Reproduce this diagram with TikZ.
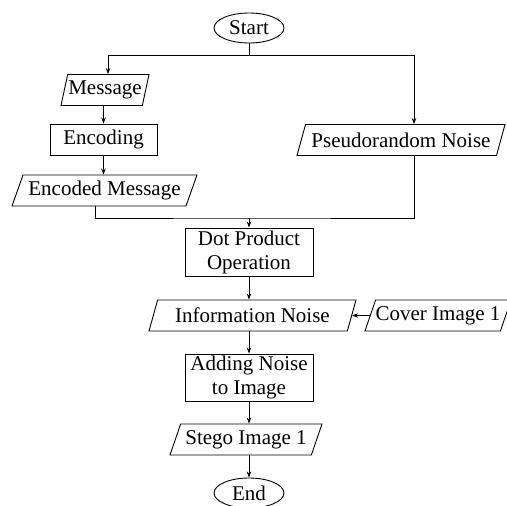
\documentclass[tikz,border=0pt]{standalone}
\usepackage{fontspec}
\setmainfont{Liberation Serif}
\usetikzlibrary{shapes.geometric,arrows.meta}
\begin{document}
\begin{tikzpicture}[x=1pt,y=-1pt,
  every node/.style={font=\fontsize{21}{24}\selectfont, inner sep=0pt, line width=0.9pt},
  terminal/.style={ellipse, draw, minimum width=70pt, minimum height=30pt},
  procbox/.style={rectangle, draw, align=center},
  iobox/.style={trapezium, draw, trapezium left angle=60, trapezium right angle=120,
    trapezium stretches body, minimum height=31pt},
  conn/.style={draw, line width=0.9pt},
  arr/.style={conn, -{Stealth[length=6pt,width=4.5pt]}}]

\useasboundingbox (0,0) rectangle (507,506);
\clip (0,0) rectangle (507,506);

% flowchart nodes
\node[terminal] (start) at (249,28) {Start};
\node[iobox, trapezium left angle=70, trapezium right angle=110, minimum width=88pt] (msg) at (105,90) {Message};
\node[procbox, minimum width=107pt, minimum height=31pt] (enc) at (103.5,139.5) {Encoding};
\node[iobox, minimum width=185pt] (encmsg) at (104.5,190.5) {Encoded Message};
\node[iobox, minimum width=208pt] (prn) at (401,140) {Pseudorandom Noise};
\node[procbox, minimum width=128pt, minimum height=48pt] (dot) at (249,252) {Dot Product\\Operation};
\node[iobox, minimum width=207pt] (info) at (252.5,315.5) {Information Noise};
\node[iobox, minimum width=142pt] (cover) at (438,315.5) {Cover Image 1};
\node[procbox, minimum width=128pt, minimum height=47pt] (add) at (249,377.5) {Adding Noise\\to Image};
\node[iobox, minimum width=152pt] (stego) at (246,439.5) {Stego Image 1};
\node[terminal] (end) at (249,493) {End};

% junction points
\coordinate (split) at (249,55);
\coordinate (merge) at (249,218);

% connectors
\draw[conn] (start.south) -- (split);
\draw[arr] (split) -| ([xshift=3pt]msg.north);
\draw[arr] (split) -| ([xshift=13pt]prn.north);
\draw[arr] (enc.north |- msg.south) -- (enc.north);
\draw[arr] (enc.south) -- (enc.south |- encmsg.north);
\draw[conn] ([xshift=-9.5pt]encmsg.south) |- (merge) -| ([xshift=13pt]prn.south);
\draw[arr] (merge) -- (dot.north);
\draw[arr] (dot.south) -- (dot.south |- info.north);
\draw[arr] (cover.west) -- (info.east);
\draw[arr] (info.south -| add.north) -- (add.north);
\draw[arr] (add.south) -- (add.south |- stego.north);
\draw[arr] (stego.south -| end.north) -- (end.north);
\end{tikzpicture}
\end{document}
